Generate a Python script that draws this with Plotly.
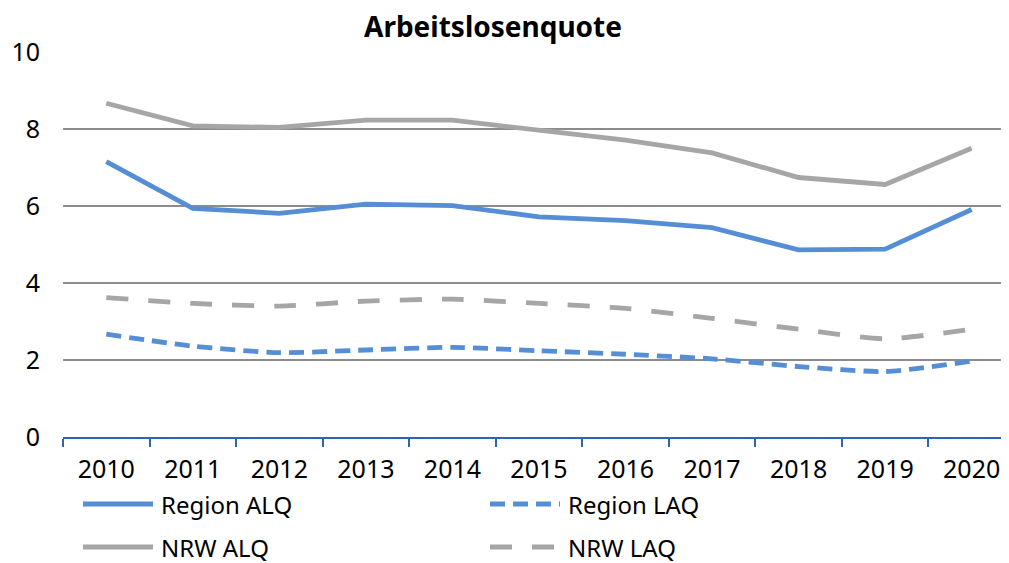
import plotly.graph_objects as go

years = ["2010", "2011", "2012", "2013", "2014", "2015", "2016", "2017", "2018", "2019", "2020"]
region_alq = [7.15, 5.94, 5.81, 6.05, 6.01, 5.72, 5.62, 5.44, 4.86, 4.88, 5.91]
region_laq = [2.67, 2.36, 2.19, 2.26, 2.33, 2.24, 2.15, 2.03, 1.83, 1.70, 1.97]
nrw_alq = [8.67, 8.08, 8.04, 8.23, 8.23, 7.97, 7.71, 7.38, 6.74, 6.56, 7.50]
nrw_laq = [3.62, 3.47, 3.40, 3.53, 3.58, 3.47, 3.34, 3.08, 2.80, 2.55, 2.80]

BLUE = "#558ED5"
GRAY = "#A6A6A6"
FONT = "Noto Sans"

series = [
    ("Region ALQ", region_alq, BLUE, "solid", "linear"),
    ("Region LAQ", region_laq, BLUE, "15px,8px", "spline"),
    ("NRW ALQ", nrw_alq, GRAY, "solid", "linear"),
    ("NRW LAQ", nrw_laq, GRAY, "22px,20px", "spline"),
]

# page has an 8px body margin; figure coordinates are page coordinates minus 8
W, H = 1001, 555
L, T, R, B = 55, 44, 1, 126
PW, PH = W - L - R, H - T - B

fig = go.Figure()
for name, vals, color, dash, shape in series:
    fig.add_trace(go.Scatter(
        x=years, y=vals, mode="lines", name=name,
        line=dict(color=color, width=4.8, dash=dash, shape=shape,
                  smoothing=0.6 if shape == "spline" else None),
        showlegend=False,
    ))

# manual legend (2 columns x 2 rows), positions in page pixels
legend_pos = [
    ("Region ALQ", BLUE, "solid", 83, 504),
    ("Region LAQ", BLUE, "15px,8px", 490, 504),
    ("NRW ALQ", GRAY, "solid", 83, 547),
    ("NRW LAQ", GRAY, "22px,20px", 490, 547),
]
for name, color, dash, px, py in legend_pos:
    fx, fy = px - 8, py - 8
    yv = (H - B - fy) / PH
    fig.add_shape(type="line", xref="paper", yref="paper",
                  x0=(fx - L) / PW, x1=(fx + 70 - L) / PW,
                  y0=yv, y1=yv,
                  line=dict(color=color, width=4.8, dash=dash))
    fig.add_annotation(text=name, xref="paper", yref="paper",
                       x=(fx + 76 - L) / PW, y=yv,
                       xanchor="left", yanchor="middle", showarrow=False,
                       font=dict(family=FONT, size=24, color="#000000"))

fig.update_layout(
    width=W, height=H,
    margin=dict(l=L, r=R, t=T, b=B),
    paper_bgcolor="white", plot_bgcolor="white",
    title=dict(text="<b>Arbeitslosenquote</b>", x=(493 - 8) / W, xanchor="center",
               y=1 - (27 - 8) / H, yanchor="middle",
               font=dict(family=FONT, size=28, color="#000000")),
    font=dict(family=FONT, size=25, color="#000000"),
)
fig.update_xaxes(
    type="category", range=[-0.5, 10.42],
    showgrid=False, zeroline=False,
    showline=True, linecolor="#2E64B4", linewidth=2,
    ticks="outside", tickson="boundaries", ticklen=8, tickwidth=2, tickcolor="#2E64B4",
    ticklabelstandoff=9,
    tickfont=dict(family=FONT, size=25, color="#000000"),
)
fig.update_yaxes(
    range=[0, 10], tickvals=[0, 2, 4, 6, 8, 10],
    showgrid=True, gridcolor="#8C8C8C", gridwidth=1.5,
    zeroline=False, showline=False, ticks="",
    ticklabelstandoff=22,
    tickfont=dict(family=FONT, size=25, color="#000000"),
)

fig.write_html("out.html")
